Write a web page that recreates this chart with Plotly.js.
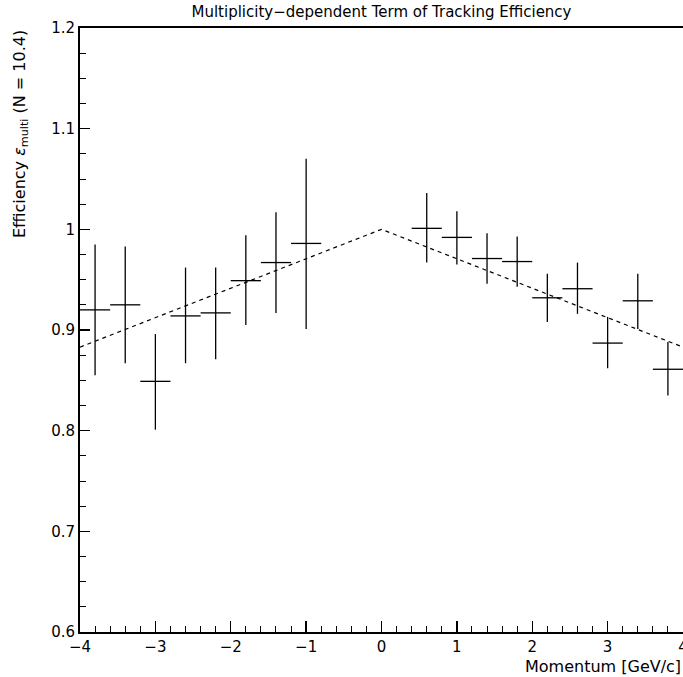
<!DOCTYPE html>
<html>
<head>
<meta charset="utf-8">
<script src="https://cdn.plot.ly/plotly-3.0.1.min.js"></script>
<style>html,body{margin:0;padding:0;background:#fff;}#chart{width:683px;height:677px;}</style>
</head>
<body>
<div id="chart"></div>
<script>
// Data
const momentum = [-3.8, -3.4, -3.0, -2.6, -2.2, -1.8, -1.4, -1.0, 0.6, 1.0, 1.4, 1.8, 2.2, 2.6, 3.0, 3.4, 3.8];
const efficiency = [0.920, 0.925, 0.849, 0.914, 0.917, 0.949, 0.967, 0.986, 1.001, 0.992, 0.971, 0.968, 0.932, 0.941, 0.887, 0.929, 0.861];
const errPlus = [0.065, 0.058, 0.047, 0.048, 0.045, 0.045, 0.050, 0.084, 0.035, 0.026, 0.025, 0.025, 0.024, 0.026, 0.026, 0.027, 0.027];
const errMinus = [0.065, 0.058, 0.048, 0.047, 0.046, 0.044, 0.050, 0.085, 0.034, 0.027, 0.025, 0.025, 0.024, 0.025, 0.025, 0.028, 0.026];
const binHalfWidth = [0.2, 0.2, 0.2, 0.2, 0.2, 0.2, 0.2, 0.2, 0.2, 0.2, 0.2, 0.2, 0.2, 0.2, 0.2, 0.2, 0.2];
const fitX = [-4, 0, 4];
const fitY = [0.883, 1.0, 0.883];

const font = {family: 'DejaVu Sans, Liberation Sans, sans-serif', size: 15, color: '#000'};

const traces = [
  {
    x: fitX, y: fitY, type: 'scatter', mode: 'lines',
    line: {color: '#000', width: 1.2, dash: '4px,4px'},
    hoverinfo: 'skip', showlegend: false
  },
  {
    x: momentum, y: efficiency, type: 'scatter', mode: 'markers',
    marker: {size: 1, color: '#000', opacity: 0},
    error_y: {type: 'data', symmetric: false, array: errPlus, arrayminus: errMinus, color: '#000', thickness: 1.3, width: 0},
    error_x: {type: 'data', array: binHalfWidth, color: '#000', thickness: 1.3, width: 0},
    showlegend: false
  }
];

const layout = {
  width: 683, height: 677,
  margin: {l: 80, r: 0, t: 28, b: 45},
  paper_bgcolor: '#fff', plot_bgcolor: '#fff',
  font: font,
  showlegend: false,
  title: {
    text: 'Multiplicity\u2212dependent Term of Tracking Efficiency',
    font: {family: font.family, size: 15, color: '#000'},
    xref: 'paper', x: 0.5, xanchor: 'center',
    yref: 'container', y: 1 - 12/677, yanchor: 'middle'
  },
  xaxis: {
    range: [-4, 4], dtick: 1, tick0: 0,
    showgrid: false, zeroline: false,
    showline: true, linecolor: '#000', linewidth: 2, mirror: true,
    ticks: 'inside', ticklen: 11, tickwidth: 1.3, tickcolor: '#000',
    ticklabeloverflow: 'allow',
    minor: {dtick: 0.2, tick0: 0, ticks: 'inside', ticklen: 6, tickwidth: 1, tickcolor: '#000', showgrid: false},
    tickfont: font
  },
  yaxis: {
    range: [0.6, 1.2], dtick: 0.1, tick0: 0.6,
    showgrid: false, zeroline: false,
    showline: true, linecolor: '#000', linewidth: 2, mirror: false,
    ticks: 'inside', ticklen: 10, tickwidth: 1.3, tickcolor: '#000',
    minor: {dtick: 0.025, tick0: 0.6, ticks: 'inside', ticklen: 6, tickwidth: 1, tickcolor: '#000', showgrid: false},
    tickfont: font
  },
  annotations: [
    {
      text: 'Efficiency <i>\u03b5</i><sub>multi</sub> (N = 10.4)',
      xref: 'paper', yref: 'paper',
      x: (20 - 80) / 603, xanchor: 'center',
      y: 1, yanchor: 'top',
      textangle: -90, showarrow: false,
      font: {family: font.family, size: 16, color: '#000'}
    },
    {
      text: 'Momentum [GeV/c]',
      xref: 'paper', yref: 'paper',
      x: 1, xanchor: 'right',
      y: -(666 - 632) / 604, yanchor: 'middle',
      showarrow: false,
      font: {family: font.family, size: 16, color: '#000'}
    }
  ]
};

Plotly.newPlot('chart', traces, layout, {staticPlot: true, displayModeBar: false});
</script>
</body>
</html>
